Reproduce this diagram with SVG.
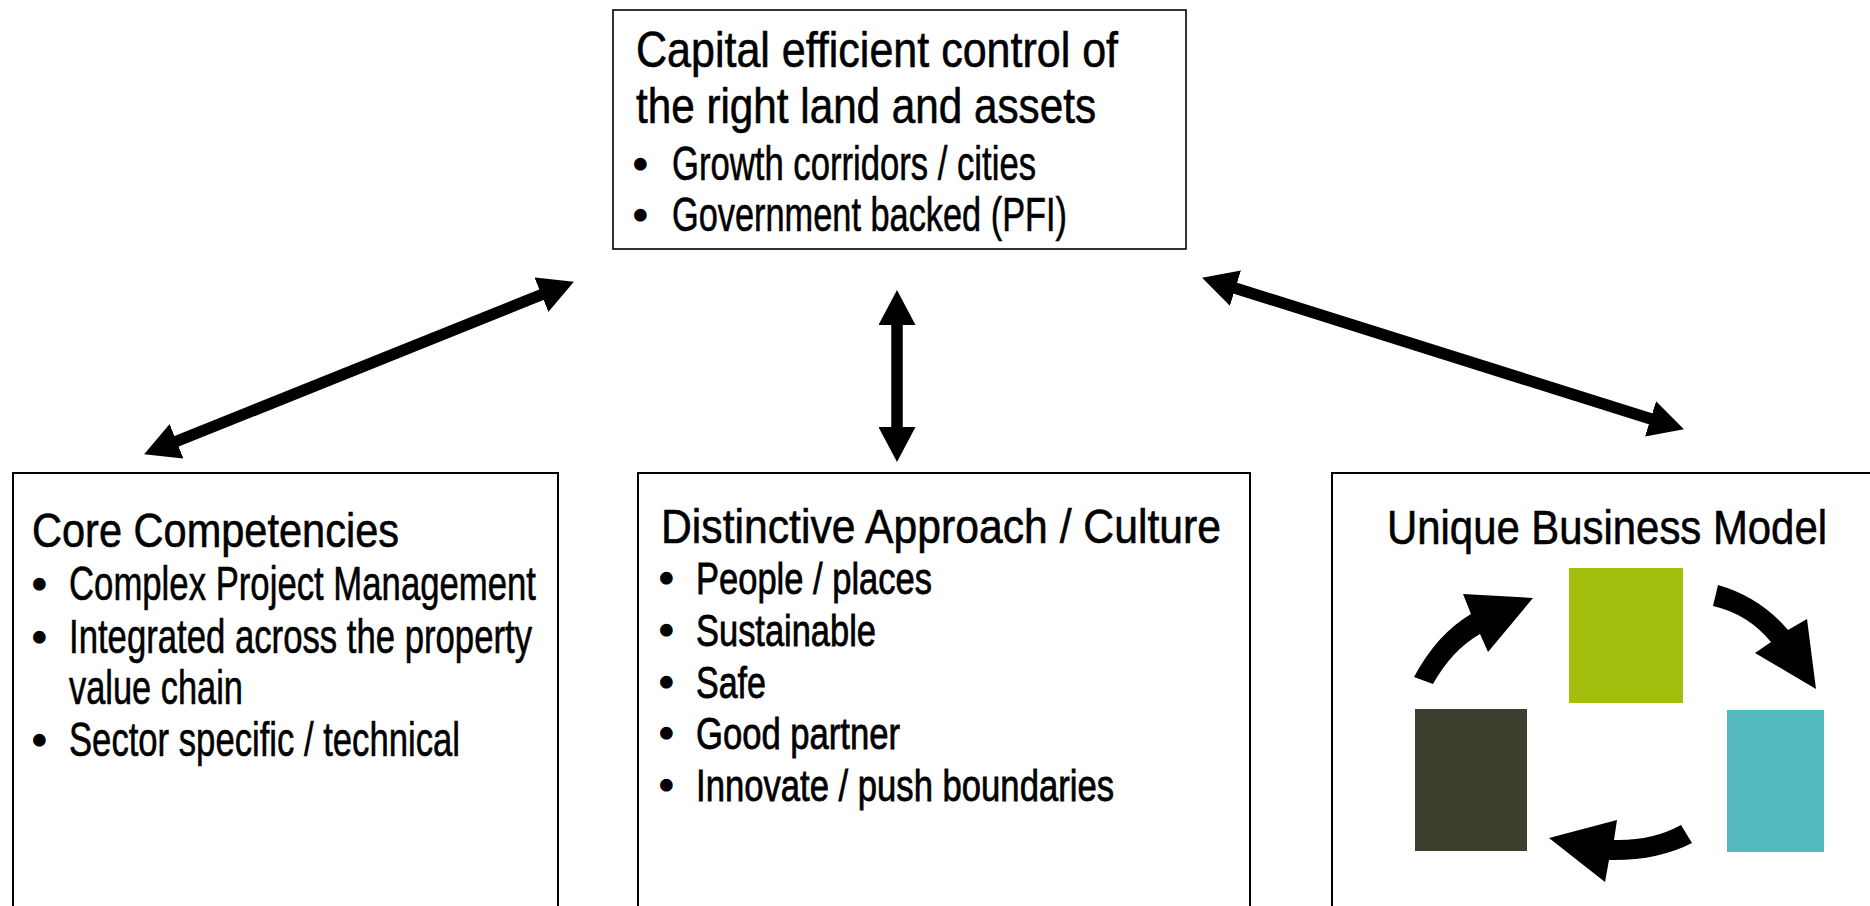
<svg xmlns="http://www.w3.org/2000/svg" width="1870" height="906" viewBox="0 0 1870 906">
  <style>
    .box { fill: #ffffff; stroke: #000000; stroke-width: 2; }
    .txt { font-family: "Liberation Sans Narrow", "Arial Narrow", "Liberation Sans", Arial, sans-serif; fill: #000000; stroke: #000000; stroke-width: 0.6; font-size: 47.5px; }
    .title { font-size: 50px; }
    .body { font-size: 45px; stroke-width: 0.8; }
    .dot { font-size: 42px; stroke-width: 1.2; }
    .link { stroke: #000000; stroke-width: 11.5; fill: none; }
    .cycle { fill: #000000; }
  </style>
  <defs>
    <marker id="head" viewBox="0 0 35 37" refX="14" refY="18.5" markerWidth="35" markerHeight="37" markerUnits="userSpaceOnUse" orient="auto-start-reverse">
      <path d="M0,0 L35,18.5 L0,37 Z" fill="#000000"/>
    </marker>
  </defs>

  <rect width="1870" height="906" fill="#ffffff"/>

  <!-- Top: land and assets -->
  <g id="land-assets">
    <rect class="box" x="613" y="10" width="573" height="239" style="stroke-width:1.6"/>
    <text class="txt title" x="636" y="67" textLength="482" lengthAdjust="spacingAndGlyphs">Capital efficient control of</text>
    <text class="txt title" x="636" y="123" textLength="460" lengthAdjust="spacingAndGlyphs">the right land and assets</text>
    <text class="txt dot" x="633" y="178">•</text>
    <text class="txt" x="672" y="180" textLength="364" lengthAdjust="spacingAndGlyphs">Growth corridors / cities</text>
    <text class="txt dot" x="633" y="229">•</text>
    <text class="txt" x="672" y="231" textLength="395" lengthAdjust="spacingAndGlyphs">Government backed (PFI)</text>
  </g>

  <!-- Bottom left: core competencies -->
  <g id="core-competencies">
    <rect class="box" x="13" y="473" width="545" height="480"/>
    <text class="txt" x="32" y="547" textLength="367" lengthAdjust="spacingAndGlyphs">Core Competencies</text>
    <text class="txt dot" x="32" y="598">•</text>
    <text class="txt" x="69" y="600" textLength="467" lengthAdjust="spacingAndGlyphs">Complex Project Management</text>
    <text class="txt dot" x="32" y="651">•</text>
    <text class="txt" x="69" y="653" textLength="463" lengthAdjust="spacingAndGlyphs">Integrated across the property</text>
    <text class="txt" x="69" y="704" textLength="174" lengthAdjust="spacingAndGlyphs">value chain</text>
    <text class="txt dot" x="32" y="754">•</text>
    <text class="txt" x="69" y="756" textLength="391" lengthAdjust="spacingAndGlyphs">Sector specific / technical</text>
  </g>

  <!-- Bottom middle: approach and culture -->
  <g id="approach-culture">
    <rect class="box" x="638" y="473" width="612" height="480"/>
    <text class="txt" x="661" y="543" textLength="560" lengthAdjust="spacingAndGlyphs">Distinctive Approach / Culture</text>
    <text class="txt dot" x="659" y="592">•</text>
    <text class="txt body" x="696" y="594" textLength="236" lengthAdjust="spacingAndGlyphs">People / places</text>
    <text class="txt dot" x="659" y="644">•</text>
    <text class="txt body" x="696" y="646" textLength="180" lengthAdjust="spacingAndGlyphs">Sustainable</text>
    <text class="txt dot" x="659" y="696">•</text>
    <text class="txt body" x="696" y="698" textLength="70" lengthAdjust="spacingAndGlyphs">Safe</text>
    <text class="txt dot" x="659" y="747">•</text>
    <text class="txt body" x="696" y="749" textLength="204" lengthAdjust="spacingAndGlyphs">Good partner</text>
    <text class="txt dot" x="659" y="799">•</text>
    <text class="txt body" x="696" y="801" textLength="418" lengthAdjust="spacingAndGlyphs">Innovate / push boundaries</text>
  </g>

  <!-- Bottom right: business model cycle -->
  <g id="business-model">
    <rect class="box" x="1332" y="473" width="560" height="480"/>
    <text class="txt" x="1387" y="544" textLength="440" lengthAdjust="spacingAndGlyphs">Unique Business Model</text>
    <rect x="1569" y="568" width="114" height="135" fill="#A3BE0C"/>
    <rect x="1727" y="710" width="97" height="142" fill="#54B9BE"/>
    <rect x="1415" y="709" width="112" height="142" fill="#3E3F2F"/>
    <path class="cycle" d="M1414,677 Q1437,634 1471,614 L1463,594 L1533,598 L1488,652 L1480,634 Q1452,650 1433,684 Z"/>
    <path class="cycle" d="M1718,585 Q1760,597 1788,630 L1807,619 L1816,689 L1755,653 L1771,642 Q1748,614 1713,606 Z"/>
    <path class="cycle" d="M1681,825 Q1652,841 1614,840 L1617,820 L1549,838 L1605,882 L1609,860 Q1657,861 1692,843 Z"/>
  </g>

  <!-- Two-way links between the top box and the three pillars -->
  <g id="connectors">
    <line class="link" x1="163.6" y1="446.5" x2="554.4" y2="289.5" marker-start="url(#head)" marker-end="url(#head)"/>
    <line class="link" x1="897" y1="311" x2="897" y2="441" marker-start="url(#head)" marker-end="url(#head)"/>
    <line class="link" x1="1222.1" y1="284" x2="1663.9" y2="423" marker-start="url(#head)" marker-end="url(#head)"/>
  </g>
</svg>
